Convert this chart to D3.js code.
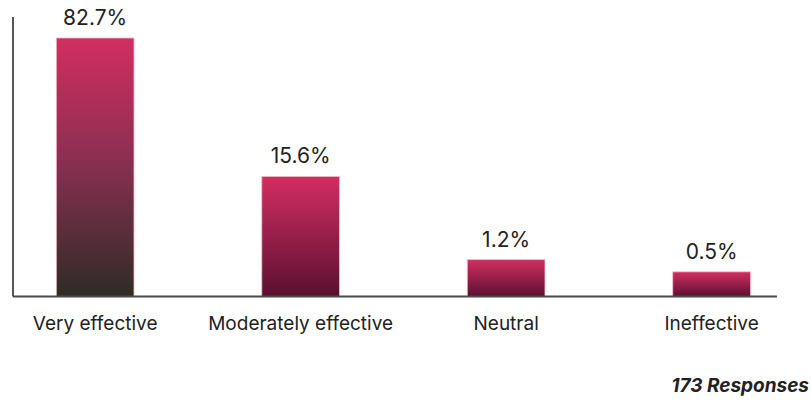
<!DOCTYPE html>
<html>
<head>
<meta charset="utf-8">
<script src="https://cdn.jsdelivr.net/npm/d3@7"></script>
<style>
  html, body { margin: 0; padding: 0; background: #fff; }
  svg { display: block; font-family: Inter, "Noto Sans", sans-serif; }
</style>
</head>
<body>
<svg id="chart" width="811" height="407"></svg>
<script>
// Survey answers and their share of responses (%)
const categories = ["Very effective", "Moderately effective", "Neutral", "Ineffective"];
const shares = [82.7, 15.6, 1.2, 0.5];
const valueLabels = ["82.7%", "15.6%", "1.2%", "0.5%"];
const responseCount = 173;

const width = 811, height = 407;
const plot = { left: 13, right: 777, top: 17, bottom: 296.5 };

const svg = d3.select("#chart");

// Category positions along the baseline
const x = d3.scaleBand()
  .domain(categories)
  .range([plot.left, plot.right])
  .paddingInner(0.622)
  .paddingOuter(0.17)
  .align(0.62);

// Compressed power scale so the small answers stay visible
const y = d3.scalePow()
  .exponent(0.46)
  .domain([0, d3.max(shares)])
  .range([plot.bottom, 38]);

// Pink-to-dark vertical gradients for the bars
const defs = svg.append("defs");
function addGradient(id, stops) {
  const g = defs.append("linearGradient")
    .attr("id", id)
    .attr("x1", 0).attr("y1", 0).attr("x2", 0).attr("y2", 1);
  stops.forEach(([o, c]) => g.append("stop").attr("offset", o).attr("stop-color", c));
}
addGradient("barTall", [[0, "#d32e62"], [0.5, "#862f4f"], [1, "#2e2c27"]]);
addGradient("barShort", [[0, "#d32e62"], [1, "#5a1030"]]);

const data = categories.map((c, i) => ({ cat: c, value: shares[i], label: valueLabels[i] }));
const maxVal = d3.max(shares);

// Bars
svg.append("g")
  .selectAll("rect")
  .data(data)
  .join("rect")
  .attr("x", d => x(d.cat))
  .attr("width", x.bandwidth())
  .attr("y", d => y(d.value))
  .attr("height", d => plot.bottom - y(d.value))
  .attr("fill", d => d.value === maxVal ? "url(#barTall)" : "url(#barShort)")
  .attr("stroke", "#f2b8cb")
  .attr("stroke-width", 0.8);

// Value labels above bars
svg.append("g")
  .selectAll("text")
  .data(data)
  .join("text")
  .attr("x", d => x(d.cat) + x.bandwidth() / 2)
  .attr("y", d => y(d.value) - 13)
  .attr("text-anchor", "middle")
  .attr("font-size", 21)
  .attr("fill", "#222")
  .text(d => d.label);

// Axes lines
svg.append("line")
  .attr("x1", plot.left).attr("x2", plot.left)
  .attr("y1", plot.top).attr("y2", plot.bottom)
  .attr("stroke", "#1e1e1e").attr("stroke-width", 1.5);

svg.append("line")
  .attr("x1", plot.left).attr("x2", plot.right)
  .attr("y1", plot.bottom).attr("y2", plot.bottom)
  .attr("stroke", "#4a4a4a").attr("stroke-width", 2);

// Category labels under the baseline
svg.append("g")
  .selectAll("text")
  .data(data)
  .join("text")
  .attr("x", d => x(d.cat) + x.bandwidth() / 2)
  .attr("y", 330)
  .attr("text-anchor", "middle")
  .attr("font-size", 19)
  .attr("fill", "#222")
  .text(d => d.cat);

// Response count note
svg.append("text")
  .attr("x", 809)
  .attr("y", 392)
  .attr("text-anchor", "end")
  .attr("font-size", 19)
  .attr("font-weight", 700)
  .attr("font-style", "italic")
  .attr("fill", "#222")
  .text(`${responseCount} Responses`);
</script>
</body>
</html>
